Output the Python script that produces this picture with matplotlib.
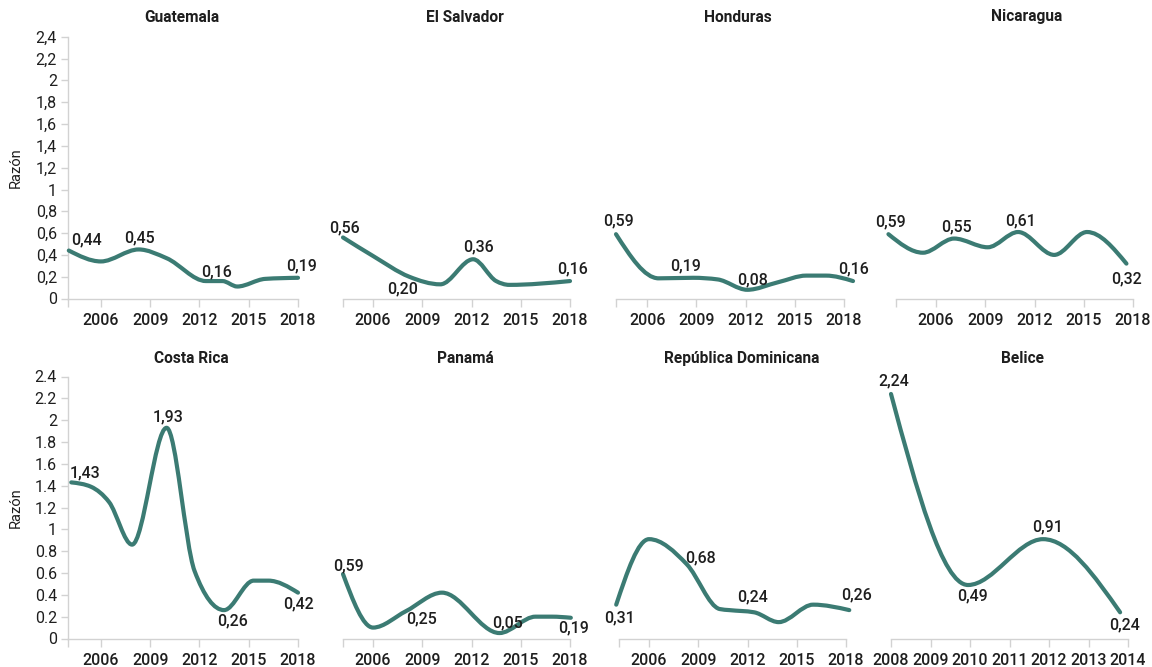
import matplotlib
matplotlib.use('Agg')
import matplotlib.pyplot as plt
from matplotlib.path import Path
from matplotlib.patches import PathPatch
import numpy as np

plt.rcParams['font.family'] = ['Roboto', 'DejaVu Sans']

# ---------------- data ----------------
countries = ['Guatemala', 'El Salvador', 'Honduras', 'Nicaragua',
             'Costa Rica', 'Panamá', 'República Dominicana', 'Belice']

guatemala_years = [2004.05, 2006.0, 2008.3, 2010.0, 2012.4, 2013.4, 2014.3, 2016.0, 2018.0]
guatemala_vals = [0.44, 0.34, 0.45, 0.37, 0.16, 0.16, 0.11, 0.18, 0.19]

elsalvador_years = [2004.17, 2006.0, 2008.2, 2010.1, 2012.1, 2013.5, 2014.3, 2018.0]
elsalvador_vals = [0.56, 0.39, 0.20, 0.13, 0.36, 0.16, 0.125, 0.16]

honduras_years = [2004.1, 2006.7, 2008.8, 2010.3, 2012.1, 2014.0, 2015.7, 2016.9, 2018.55]
honduras_vals = [0.59, 0.185, 0.19, 0.175, 0.08, 0.15, 0.21, 0.21, 0.16]

nicaragua_years = [2003.1, 2005.2, 2007.1, 2009.15, 2011.0, 2013.2, 2015.2, 2017.6]
nicaragua_vals = [0.59, 0.42, 0.55, 0.47, 0.61, 0.40, 0.61, 0.32]

costarica_years = [2004.2, 2005.4, 2006.5, 2007.9, 2010.0, 2011.7, 2013.5, 2015.3, 2016.2, 2018.0]
costarica_vals = [1.43, 1.39, 1.25, 0.86, 1.93, 0.62, 0.26, 0.53, 0.53, 0.42]

panama_years = [2004.17, 2006.0, 2008.0, 2010.2, 2013.7, 2015.9, 2016.9, 2018.05]
panama_vals = [0.59, 0.10, 0.25, 0.42, 0.05, 0.20, 0.20, 0.19]

rd_years = [2004.0, 2006.0, 2008.3, 2010.3, 2010.9, 2012.4, 2013.9, 2016.0, 2018.2]
rd_vals = [0.31, 0.91, 0.68, 0.27, 0.26, 0.24, 0.15, 0.31, 0.26]

belice_years = [2008.0, 2009.95, 2011.85, 2013.8]
belice_vals = [2.24, 0.49, 0.91, 0.24]

series_years = [guatemala_years, elsalvador_years, honduras_years, nicaragua_years,
                costarica_years, panama_years, rd_years, belice_years]
series_vals = [guatemala_vals, elsalvador_vals, honduras_vals, nicaragua_vals,
               costarica_vals, panama_vals, rd_vals, belice_vals]

xticks_main = [2006, 2009, 2012, 2015, 2018]
xticks_belice = [2008, 2009, 2010, 2011, 2012, 2013, 2014]

yticks = [0, 0.2, 0.4, 0.6, 0.8, 1, 1.2, 1.4, 1.6, 1.8, 2, 2.2, 2.4]
ytick_labels_top = ['0', '0,2', '0,4', '0,6', '0,8', '1', '1,2', '1,4', '1,6', '1,8', '2', '2,2', '2,4']
ytick_labels_bottom = ['0', '0.2', '0.4', '0.6', '0.8', '1', '1.2', '1.4', '1.6', '1.8', '2', '2.2', '2.4']

# ---------------- layout / style ----------------
W, H = 1152, 667
DPI = 100
LINE = '#3b7b73'
GRID = '#d2d2d2'
TXT = '#1e1e1e'

# panel: (left px, right px, xmin, xmax)
panel_geom = [
    (68, 298, 2004.0, 2018.0),
    (343, 570, 2004.17, 2018.0),
    (616, 844, 2004.1, 2018.0),
    (896, 1133, 2003.56, 2018.0),
    (68, 298, 2004.0, 2018.0),
    (343, 570, 2004.17, 2018.0),
    (619, 846, 2004.17, 2018.0),
    (891, 1128, 2008.0, 2014.0),
]
row_zero_px = [298.5, 638.5]
row_top_px = [36.9, 376.5]

title_pos = [(182, 17), (465, 17), (738, 17), (1027, 17),
             (191, 358), (465, 358), (742, 358), (1023, 358)]

# value labels: (index, dx px, dy px)
label_specs = [
    [(0, 18, 11), (2, 1, 12), (4, 11, 9), (8, 4, 12)],
    [(0, 1, 10), (2, -7, -12), (4, 5, 12), (7, 3, 12)],
    [(0, 3, 13), (2, -8, 12), (4, 5, 10), (8, 0, 12)],
    [(0, 2, 12), (2, 2, 12), (4, 2, 11), (7, 0, -15)],
    [(0, 14, 9), (4, 1, 11), (6, 8, -11), (9, 1, -11)],
    [(0, 5, 8), (2, 16, -8), (4, 8, 10), (7, 3, -10)],
    [(0, 3, -13), (2, 14, 6), (5, -2, 15), (8, 7, 15)],
    [(0, 3, 13), (1, 4, -11), (2, 4, 12), (3, 4, -13)],
]


def monotone_path(xs, ys):
    xs = np.asarray(xs, float)
    ys = np.asarray(ys, float)
    n = len(xs)
    h = np.diff(xs)
    s = np.diff(ys) / h
    t = np.zeros(n)
    for i in range(1, n - 1):
        h0, h1 = h[i - 1], h[i]
        s0, s1 = s[i - 1], s[i]
        p = (s0 * h1 + s1 * h0) / (h0 + h1)
        sg = (1 if s0 >= 0 else -1) + (1 if s1 >= 0 else -1)
        t[i] = sg * min(abs(s0), abs(s1), 0.5 * abs(p))
    if n > 2:
        t[0] = (3 * s[0] - t[1]) / 2
        t[-1] = (3 * s[-1] - t[-2]) / 2
    else:
        t[:] = s[0]
    verts = [(xs[0], ys[0])]
    codes = [Path.MOVETO]
    for i in range(n - 1):
        dx = h[i] / 3
        verts += [(xs[i] + dx, ys[i] + dx * t[i]),
                  (xs[i + 1] - dx, ys[i + 1] - dx * t[i + 1]),
                  (xs[i + 1], ys[i + 1])]
        codes += [Path.CURVE4] * 3
    return Path(verts, codes)


fig = plt.figure(figsize=(W / DPI, H / DPI), dpi=DPI)
fig.patch.set_facecolor('white')

for k in range(8):
    row, col = divmod(k, 4)
    left, right, x0, x1 = panel_geom[k]
    zero = row_zero_px[row]
    top = row_top_px[row]
    ax = fig.add_axes([left / W, 1 - zero / H, (right - left) / W, (zero - top) / H])
    ax.set_facecolor('none')
    ax.set_xlim(x0, x1)
    ax.set_ylim(0, 2.4)

    for sp in ['top', 'right']:
        ax.spines[sp].set_visible(False)
    ax.spines['bottom'].set_color(GRID)
    ax.spines['bottom'].set_linewidth(1.0)

    ticks = xticks_belice if k == 7 else xticks_main
    ax.set_xticks(ticks)
    ax.set_xticklabels([str(t) for t in ticks])
    if x0 < ticks[0] - 0.01:
        ax.set_xticks([x0], minor=True)
    ax.tick_params(axis='x', which='both', length=6, width=1.0, color=GRID,
                   pad=4.5, labelsize=11.5, labelcolor=TXT)
    for lab in ax.get_xticklabels():
        lab.set_fontweight('medium')

    if col == 0:
        ax.spines['left'].set_color(GRID)
        ax.spines['left'].set_linewidth(1.0)
        ax.set_yticks(yticks)
        ax.set_yticklabels(ytick_labels_top if row == 0 else ytick_labels_bottom)
        ax.tick_params(axis='y', length=5, width=1.0, color=GRID, pad=3,
                       labelsize=11.5, labelcolor=TXT)
    else:
        ax.spines['left'].set_visible(False)
        ax.set_yticks([])

    xs = series_years[k]
    ys = series_vals[k]
    patch = PathPatch(monotone_path(xs, ys), facecolor='none', edgecolor=LINE,
                      lw=3.0, capstyle='round', joinstyle='round', clip_on=False, zorder=3)
    ax.add_patch(patch)

    for idx, dx, dy in label_specs[k]:
        txt = f"{ys[idx]:.2f}".replace('.', ',')
        ax.annotate(txt, xy=(xs[idx], ys[idx]), xytext=(dx, dy), textcoords='offset pixels',
                    ha='center', va='center', fontsize=11.5, fontweight='medium',
                    color=TXT, annotation_clip=False, zorder=4)

    tx, ty = title_pos[k]
    fig.text(tx / W, 1 - ty / H, countries[k], ha='center', va='center',
             fontsize=11.2, fontweight='bold', color=TXT)

# y-axis titles
for row in range(2):
    cy = (row_zero_px[row] + row_top_px[row]) / 2
    fig.text(16 / W, 1 - cy / H, 'Razón', rotation=90, ha='center', va='center',
             fontsize=10.5, color=TXT)

fig.savefig('out.png', dpi=DPI, facecolor='white')
